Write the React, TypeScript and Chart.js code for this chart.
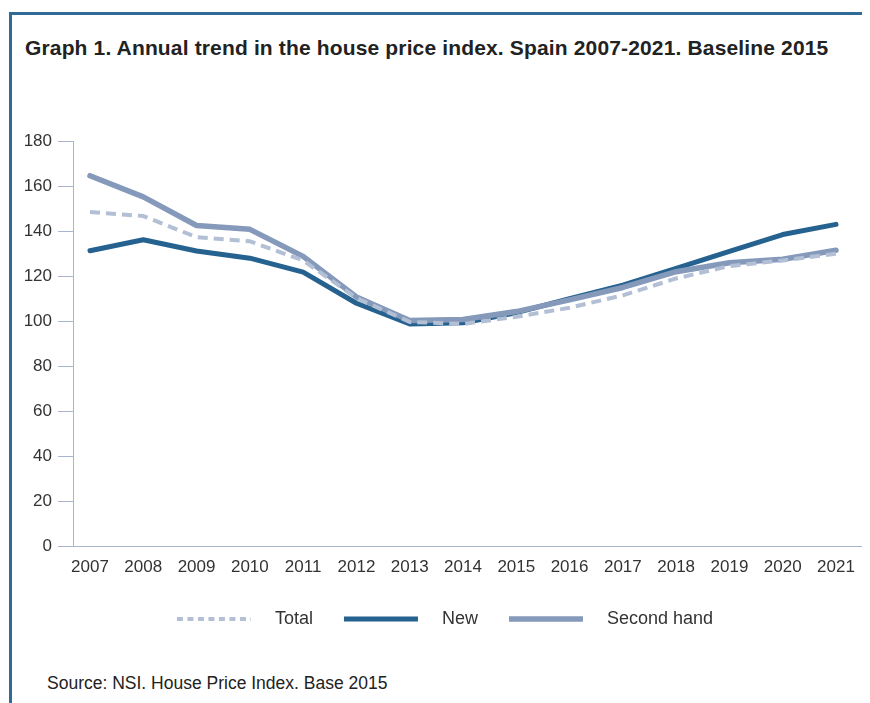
import React, { useEffect, useRef } from "react";
import { Chart, registerables } from "chart.js";

Chart.register(...registerables);

const years = [2007, 2008, 2009, 2010, 2011, 2012, 2013, 2014, 2015, 2016, 2017, 2018, 2019, 2020, 2021];
const totalValues = [148.5, 146.7, 137.3, 135.5, 127.0, 110.3, 99.7, 98.8, 102.0, 106.0, 111.5, 119.0, 124.5, 127.0, 130.0];
const newValues = [131.3, 136.2, 131.2, 128.0, 121.8, 108.0, 98.8, 99.3, 103.8, 110.0, 116.0, 123.5, 131.0, 138.5, 143.0];
const secondHandValues = [164.6, 155.2, 142.5, 140.8, 128.8, 110.8, 100.3, 100.8, 104.3, 109.5, 115.0, 122.0, 126.0, 127.5, 131.5];
const seriesNames = ["Total", "New", "Second hand"];
const yTicks = [0, 20, 40, 60, 80, 100, 120, 140, 160, 180];

const titleText = "Graph 1. Annual trend in the house price index. Spain 2007-2021. Baseline 2015";
const sourceText = "Source: NSI. House Price Index. Base 2015";

const FONT = '"Liberation Sans", Arial, Helvetica, sans-serif';
const AXIS_COLOR = "#a7b5cd";
const FRAME_COLOR = "#2f6b96";

const legendShift = {
  id: "legendShift",
  afterLayout(chart: any) {
    if (chart.legend) chart.legend.left += 26;
  },
};

export default function App() {
  const canvasRef = useRef<HTMLCanvasElement | null>(null);

  useEffect(() => {
    if (!canvasRef.current) return;
    Chart.defaults.font.family = FONT;
    const toPts = (vals: number[]) => years.map((yr, i) => ({ x: yr, y: vals[i] }));
    const chart = new Chart(canvasRef.current, {
      type: "line",
      data: {
        datasets: [
          {
            label: seriesNames[0],
            data: toPts(totalValues),
            borderColor: "#b3bfd4",
            backgroundColor: "#b3bfd4",
            borderWidth: 4,
            borderDash: [10, 6],
            borderCapStyle: "butt",
            borderJoinStyle: "round",
            pointRadius: 0,
            tension: 0,
            order: 0,
          },
          {
            label: seriesNames[1],
            data: toPts(newValues),
            borderColor: "#25628f",
            backgroundColor: "#25628f",
            borderWidth: 5,
            borderCapStyle: "round",
            borderJoinStyle: "round",
            pointRadius: 0,
            tension: 0,
            order: 2,
          },
          {
            label: seriesNames[2],
            data: toPts(secondHandValues),
            borderColor: "#8599ba",
            backgroundColor: "#8599ba",
            borderWidth: 5.5,
            borderCapStyle: "round",
            borderJoinStyle: "round",
            pointRadius: 0,
            tension: 0,
            order: 1,
          },
        ],
      },
      plugins: [legendShift],
      options: {
        responsive: false,
        animation: false,
        devicePixelRatio: 1,
        layout: { padding: { top: 41, right: 4, left: 0, bottom: 18 } },
        scales: {
          x: {
            type: "linear",
            min: 2006.681,
            max: 2021.563,
            afterBuildTicks: (axis: any) => {
              axis.ticks = years.map((v) => ({ value: v }));
            },
            grid: { display: false, drawTicks: false },
            border: { display: true, color: AXIS_COLOR, width: 1 },
            ticks: {
              autoSkip: false,
              maxRotation: 0,
              padding: 11,
              color: "#333333",
              font: { size: 17 },
              callback: (v: any) => String(v),
            },
          },
          y: {
            min: 0,
            max: 180,
            afterBuildTicks: (axis: any) => {
              axis.ticks = yTicks.map((v) => ({ value: v }));
            },
            afterFit: (scale: any) => {
              scale.width = 65;
            },
            grid: {
              drawOnChartArea: false,
              drawTicks: true,
              tickLength: 15,
              color: AXIS_COLOR,
              lineWidth: 1,
            },
            border: { display: true, color: AXIS_COLOR, width: 1 },
            ticks: {
              padding: 6,
              color: "#333333",
              font: { size: 17 },
            },
          },
        },
        plugins: {
          title: { display: false },
          tooltip: { enabled: false },
          legend: {
            display: true,
            position: "bottom",
            labels: {
              usePointStyle: true,
              pointStyle: "line",
              pointStyleWidth: 74,
              padding: 21,
              color: "#333333",
              font: { size: 18 },
              sort: (a: any, b: any) => a.datasetIndex - b.datasetIndex,
              generateLabels: (ch: any) => {
                const items = Chart.defaults.plugins.legend.labels.generateLabels(ch);
                return items.map((it: any) => ({
                  ...it,
                  text: "   " + it.text + "  ",
                  lineCap: "butt",
                  lineDash: it.datasetIndex === 0 ? [6, 4.5] : [],
                }));
              },
            },
          },
        },
      },
    });
    return () => chart.destroy();
  }, []);

  return (
    <div style={{ position: "relative", width: 862, height: 695, overflow: "hidden" }}>
      <div
        style={{
          position: "absolute",
          left: 1,
          top: 4,
          right: -10,
          bottom: -10,
          borderLeft: `3px solid ${FRAME_COLOR}`,
          borderTop: `3px solid ${FRAME_COLOR}`,
        }}
      />
      <div
        style={{
          position: "absolute",
          left: 17,
          top: 28,
          fontFamily: FONT,
          fontWeight: "bold",
          fontSize: 21,
          letterSpacing: "0.15px",
          lineHeight: "24px",
          color: "#222222",
          whiteSpace: "nowrap",
        }}
      >
        {titleText}
      </div>
      <canvas
        ref={canvasRef}
        width={862}
        height={556}
        style={{ position: "absolute", left: 0, top: 92, width: 862, height: 556 }}
      />
      <div
        style={{
          position: "absolute",
          left: 39,
          top: 664,
          fontFamily: FONT,
          fontSize: 17.5,
          lineHeight: "22px",
          color: "#222222",
          whiteSpace: "nowrap",
        }}
      >
        {sourceText}
      </div>
    </div>
  );
}
